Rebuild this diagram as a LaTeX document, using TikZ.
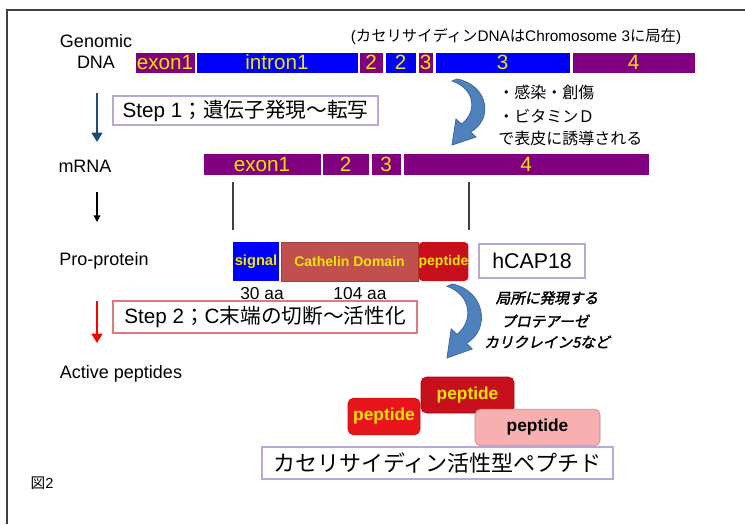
\documentclass[tikz,border=0pt]{standalone}
\usepackage{fontspec}
\setmainfont{Liberation Sans}
\newfontfamily\jp{Noto Sans CJK JP}
\newfontfamily\jpbi[FakeSlant=0.2,FakeBold=2]{Noto Sans CJK JP}
\usetikzlibrary{arrows.meta}
\definecolor{dpurple}{HTML}{800080}
\definecolor{segblue}{HTML}{0000FF}
\definecolor{ytext}{HTML}{F2E600}
\definecolor{lav}{HTML}{B9A8D4}
\definecolor{cath}{HTML}{C0504D}
\definecolor{pepred}{HTML}{C8101C}
\definecolor{brightred}{HTML}{E8141C}
\definecolor{pinkfill}{HTML}{F7AFB0}
\definecolor{arrowblue}{HTML}{4F81BD}
\definecolor{arrowedge}{HTML}{3C6A9E}
\definecolor{navy}{HTML}{1F497D}
\definecolor{framecol}{HTML}{404040}
\definecolor{step2border}{HTML}{E07A7A}
\tikzset{
  seg/.style={inner sep=0pt, outer sep=0pt, text=ytext, font=\fontsize{15.5}{16}\selectfont, draw=white, line width=0.5pt},
  gbar/.style={seg, minimum height=15.75pt},
  mbar/.style={seg, fill=dpurple, minimum height=16.5pt},
  pbar/.style={inner sep=0pt, outer sep=0pt, text=ytext, font=\bfseries\fontsize{10.5}{12}\selectfont, minimum height=29.25pt},
  lbl/.style={inner sep=0pt, font=\fontsize{13.5}{16}\selectfont},
  framebox/.style={draw=lav, line width=0.9pt, inner sep=0pt, fill=white},
  pepbox/.style={rounded corners=4pt, inner sep=0pt, font=\bfseries\fontsize{13}{15}\selectfont, minimum height=27.5pt},
  bendarrow/.pic={
    \filldraw[fill=arrowblue, draw=arrowedge, line width=0.6pt]
      (0,2) -- (5,0) .. controls (36,6) and (42,40) .. (18.6,53) -- (24,58) -- (0,66)
      -- (4,40) -- (9.4,45) .. controls (25,34) and (24,10) .. (0,2) -- cycle;
  },
  stemarrow/.style={-{Triangle[width=8pt,length=7pt]}}
}
\begin{document}
\begin{tikzpicture}[x=0.75pt,y=-0.75pt]
\useasboundingbox (0,0) rectangle (745,524);
% frame
\coordinate (fBL) at (7,524);
\coordinate (fTL) at (7,10);
\coordinate (fTR) at (745,10);
\draw[framecol, line width=1.1pt] (fBL) -- (fTL) -- (fTR);

% labels
\node[lbl] (genomic) at (96,41) {Genomic};
\node[lbl] (dna) at (96,62) {DNA};
\node[lbl] (mrna) at (85,166) {mRNA};
\node[lbl] (pro) at (104,261) {Pro-protein};
\node[lbl] (active) at (121,374) {Active peptides};
\node[inner sep=0pt, font=\fontsize{11}{13}\selectfont] (fig) at (42,483) {{\jp 図}2};

% chromosome note
\node[inner sep=0pt, font=\fontsize{11.5}{14}\selectfont] (note) at (516,37)
  {({\jp カセリサイディン}DNA{\jp は}Chromosome 3{\jp に局在})};

% genomic DNA bar
\node[gbar, fill=dpurple, minimum width=45pt] (gex1) at (165,62.5) {exon1};
\node[gbar, fill=segblue, minimum width=121.5pt] (gin1) at (277,62.5) {intron1};
\node[gbar, fill=dpurple, minimum width=18pt] (gex2) at (371,62.5) {2};
\node[gbar, fill=segblue, minimum width=23.25pt] (gin2) at (400.5,62.5) {2};
\node[gbar, fill=dpurple, minimum width=11.25pt] (gex3) at (425.5,62.5) {3};
\node[gbar, fill=segblue, minimum width=101.25pt] (gin3) at (502.5,62.5) {3};
\node[gbar, fill=dpurple, minimum width=92.25pt] (gex4) at (633.5,62.5) {4};

% step 1
\coordinate (a1s) at (97,93);
\coordinate (a1e) at (97,142);
\draw[navy, line width=2.2pt, stemarrow] (a1s) -- (a1e);
\node[framebox, minimum width=198.75pt, minimum height=21.75pt, font=\fontsize{15.5}{18}\selectfont] (step1) at (245.5,110.5)
  {Step 1{\jp ；遺伝子発現～転写}};

% induction arrow and text
\path (452,79) pic {bendarrow};
\node[anchor=west, inner sep=0pt, font=\fontsize{12}{14}\jp] (ind1) at (498,92) {・感染・創傷};
\node[anchor=west, inner sep=0pt, font=\fontsize{12}{14}\jp] (ind2) at (498,116) {・ビタミンＤ};
\node[anchor=west, inner sep=0pt, font=\fontsize{12}{14}\jp] (ind3) at (498,138) {で表皮に誘導される};

% mRNA bar
\node[mbar, minimum width=88.5pt] (mex1) at (262,164) {exon1};
\node[mbar, minimum width=35.25pt] (mex2) at (345.5,164) {2};
\node[mbar, minimum width=22.5pt] (mex3) at (386,164) {3};
\node[mbar, minimum width=184.5pt] (mex4) at (526,164) {4};

% translation arrow
\coordinate (a2s) at (97,192);
\coordinate (a2e) at (97,222);
\draw[black, line width=1pt, -{Triangle[width=5pt,length=5pt]}] (a2s) -- (a2e);

% correspondence lines
\coordinate (v1t) at (233,182);
\coordinate (v1b) at (233,230);
\coordinate (v2t) at (469,182);
\coordinate (v2b) at (469,230);
\draw[framecol, line width=0.9pt] (v1t) -- (v1b);
\draw[framecol, line width=0.9pt] (v2t) -- (v2b);

% pro-protein
\node[pbar, fill=segblue, minimum width=34.5pt, font=\bfseries\fontsize{11}{12}\selectfont] (sig) at (256,261.5) {signal};
\node[pbar, fill=cath, draw=cath!80!black, line width=0.4pt, minimum width=102.75pt] (cathd) at (349.5,261.5) {Cathelin Domain};
\node[pbar, fill=pepred, rounded corners=3pt, minimum width=35.25pt, font=\bfseries\fontsize{10.5}{12}\selectfont] (pep) at (443.5,261.5) {peptide};
\node[framebox, minimum width=79.5pt, minimum height=25.5pt, font=\fontsize{16}{18}\selectfont] (hcap) at (532,261) {hCAP18};
\node[inner sep=0pt, font=\fontsize{13}{15}\selectfont] (aa30) at (262,294) {30 aa};
\node[inner sep=0pt, font=\fontsize{13}{15}\selectfont] (aa104) at (360,294) {104 aa};

% step 2
\coordinate (a3s) at (97,301);
\coordinate (a3e) at (97,343);
\draw[red, line width=2pt, stemarrow] (a3s) -- (a3e);
\node[draw=step2border, line width=0.9pt, inner sep=0pt, minimum width=228pt, minimum height=24pt, font=\fontsize{15.5}{18}\selectfont] (step2) at (265,317)
  {Step 2{\jp ；}C{\jp 末端の切断～活性化}};

% protease arrow and text
\path (447,284) pic[xscale=1.05, yscale=1.12] {bendarrow};
\node[inner sep=0pt, font=\fontsize{11}{13}\jpbi] (prot1) at (547,298) {局所に発現する};
\node[inner sep=0pt, font=\fontsize{11}{13}\jpbi] (prot2) at (545,321) {プロテアーゼ};
\node[inner sep=0pt, font=\fontsize{11}{13}\jpbi] (prot3) at (547,342) {カリクレイン5など};

% active peptides
\node[pepbox, fill=brightred, draw=brightred!80!black, line width=0.4pt, text=ytext, minimum width=54pt] (pepA) at (384,416.5) {peptide};
\node[pepbox, fill=pepred, draw=pepred!80!black, line width=0.4pt, text=ytext, minimum width=69.75pt, minimum height=27pt] (pepB) at (467.5,395) {peptide};
\node[pepbox, fill=pinkfill, draw=pinkfill!75!black, line width=0.4pt, text=black, minimum width=93.75pt] (pepC) at (537.5,427.5) {peptide};
\node[framebox, minimum width=263.25pt, minimum height=24pt, font=\fontsize{16.5}{18}\jp] (final) at (437.5,463) {カセリサイディン活性型ペプチド};
\end{tikzpicture}
\end{document}
